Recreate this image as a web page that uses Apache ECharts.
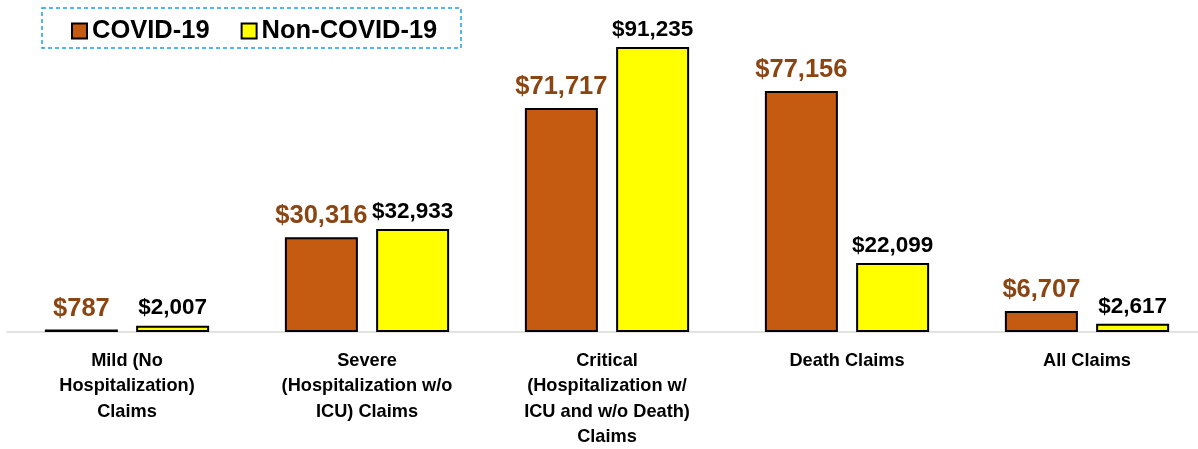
<html>
<head>
<meta charset="utf-8">
<script src="https://cdn.jsdelivr.net/npm/echarts@6/dist/echarts.min.js"></script>
<style>
  html, body { margin: 0; padding: 0; background: #fff; }
  #main { width: 1198px; height: 449px; }
</style>
</head>
<body>
<div id="main"></div>
<script>
var categories = [
    'Mild (No\nHospitalization)\nClaims',
    'Severe\n(Hospitalization w/o\nICU) Claims',
    'Critical\n(Hospitalization w/\nICU and w/o Death)\nClaims',
    'Death Claims',
    'All Claims'
];
var covid = [787, 30316, 71717, 77156, 6707];
var nonCovid = [2007, 32933, 91235, 22099, 2617];

var font = 'Arial, "Liberation Sans", sans-serif';

function money(p) {
    return '$' + p.value.toLocaleString('en-US');
}

var chart = echarts.init(document.getElementById('main'));

chart.setOption({
    animation: false,
    textStyle: { fontFamily: font },
    graphic: [{
        type: 'rect',
        shape: { x: 42, y: 8, width: 419, height: 40 },
        style: { fill: 'none', stroke: '#1BA1E2', lineWidth: 1.5, lineDash: [4, 3] }
    }],
    legend: {
        left: 66,
        top: 13,
        icon: 'rect',
        itemWidth: 15,
        itemHeight: 15,
        itemGap: 31,
        textStyle: { fontFamily: font, fontWeight: 'bold', fontSize: 25.5, color: '#000' },
        data: ['COVID-19', 'Non-COVID-19']
    },
    grid: { left: 7, width: 1200, top: 19.6, bottom: 117, outerBoundsMode: 'none' },
    xAxis: {
        type: 'category',
        data: categories,
        axisLine: { lineStyle: { color: '#D9D9D9', width: 1.5 } },
        axisTick: { show: false },
        axisLabel: {
            interval: 0,
            margin: 16,
            fontFamily: font,
            fontWeight: 'bold',
            fontSize: 18.2,
            lineHeight: 25.5,
            color: '#000'
        }
    },
    yAxis: {
        type: 'value',
        min: 0,
        max: 100000,
        show: false,
        splitLine: { show: false }
    },
    series: [{
        name: 'COVID-19',
        type: 'bar',
        data: covid,
        barWidth: 73,
        barGap: '25%',
        itemStyle: { color: '#C55A11', borderColor: '#000', borderWidth: 2 },
        label: {
            show: true,
            position: 'top',
            distance: 8,
            formatter: money,
            fontFamily: font,
            fontWeight: 'bold',
            fontSize: 25.5,
            color: '#8B4513'
        }
    }, {
        name: 'Non-COVID-19',
        type: 'bar',
        data: nonCovid,
        barWidth: 73,
        itemStyle: { color: '#FFFF00', borderColor: '#000', borderWidth: 2 },
        label: {
            show: true,
            position: 'top',
            distance: 6,
            formatter: money,
            fontFamily: font,
            fontWeight: 'bold',
            fontSize: 22.5,
            color: '#000'
        }
    }]
});
</script>
</body>
</html>
